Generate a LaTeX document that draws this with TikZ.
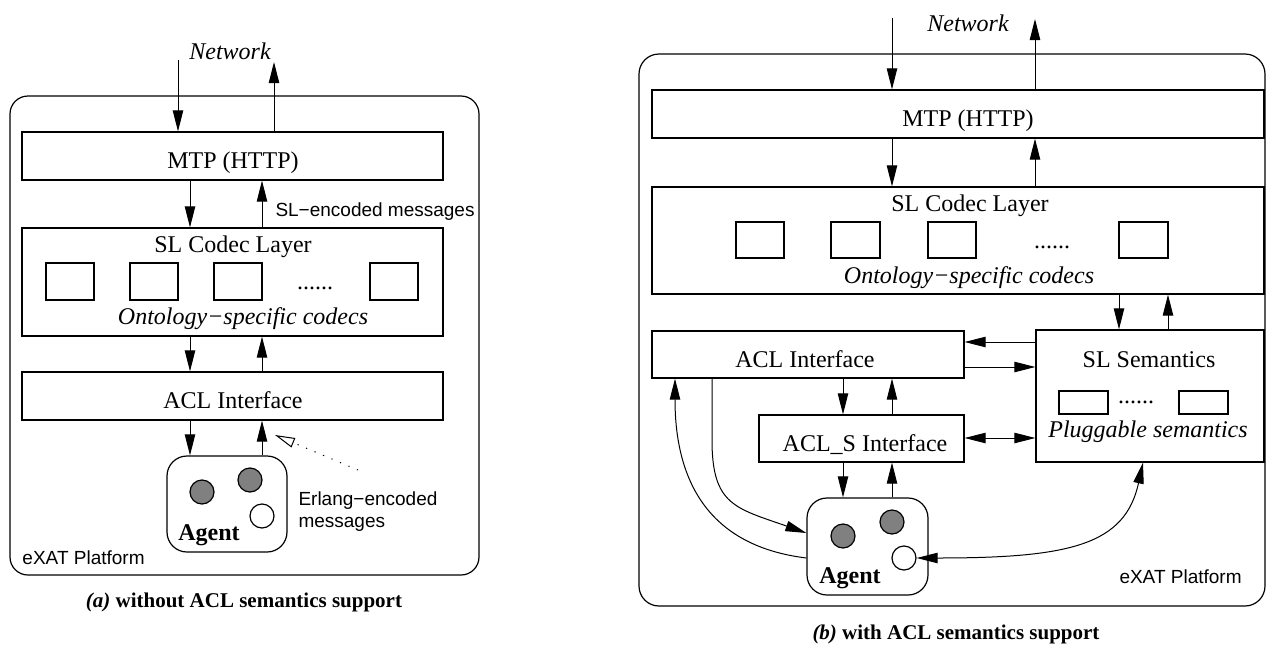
\documentclass[tikz,border=0pt]{standalone}
\usepackage{fontspec}
\setmainfont{Liberation Serif}
\setsansfont{Liberation Sans}
\usetikzlibrary{arrows.meta,fit}
\begin{document}
\begin{tikzpicture}[x=0.5pt,y=-0.5pt, line width=0.5pt,
  box/.style={draw, line width=0.6pt, inner sep=0pt},
  rbox/.style={box, rounded corners=9pt},
  lbl/.style={inner sep=0pt, anchor=base, font=\fontsize{12}{14}\selectfont},
  ilbl/.style={inner sep=0pt, anchor=base, font=\fontsize{12}{14}\selectfont\itshape},
  blbl/.style={inner sep=0pt, anchor=base, font=\fontsize{12}{14}\selectfont\bfseries},
  slbl/.style={inner sep=0pt, anchor=base west, font=\fontsize{9.5}{11}\sffamily\selectfont},
  capt/.style={inner sep=0pt, anchor=base, font=\fontsize{10.5}{12}\bfseries\selectfont},
  arrowhd/.tip={Triangle[length=10.5pt,width=5.2pt]},
  arr/.style={-arrowhd},
  darr/.style={arrowhd-arrowhd},
  dotarr/.style={-{Triangle[open,length=10pt,width=5pt]}, dash pattern=on 0.6pt off 4pt},
  ball/.style={circle, draw, line width=0.6pt, minimum size=12pt, inner sep=0pt, fill=#1},
]
\useasboundingbox (0,0) rectangle (1266,644);

% ================= (a) =================
\node[rbox, fit={(10,96)(479,575)}] (platA) {};
\node[box, fit={(22,132)(443,180)}] (mtpA) {};
\node[box, fit={(22,228)(443,336)}] (slA) {};
\node[box, fit={(22,372)(443,420)}] (aclA) {};
\node[box, rounded corners=10pt, fit={(167,456)(287,552)}] (agentA) {};
\node[box, fit={(46,263)(94,300)}] (cA1) {};
\node[box, fit={(130,263)(178,300)}] (cA2) {};
\node[box, fit={(214,263)(262,300)}] (cA3) {};
\node[box, fit={(370,263)(418,300)}] (cA4) {};
\node[ball=gray] (gA1) at (202,492) {};
\node[ball=gray] (gA2) at (250,480) {};
\node[ball=white] (wA) at (262,516) {};

\node[ilbl] (netA) at (230,59) {Network};
\node[lbl] (mtpAt) at (233,168) {MTP (HTTP)};
\node[lbl] (slAt) at (233,252) {SL Codec Layer};
\node[lbl] (dotsA) at (315,289) {......};
\node[ilbl] (ontA) at (243,324) {Ontology−specific codecs};
\node[lbl] (aclAt) at (233,408) {ACL Interface};
\node[blbl] (agA) at (209,540) {Agent};
\node[slbl] (slencA) at (275,216) {SL−encoded messages};
\node[slbl] (erl1A) at (298,505) {Erlang−encoded};
\node[slbl] (erl2A) at (298,527) {messages};
\node[slbl] (exatA) at (22,564) {eXAT Platform};
\node[capt] (capA) at (244,607) {\textit{(a)} without ACL semantics support};

\coordinate (netInA) at (178,60);
\coordinate (netOutA) at (274,62);
\coordinate (xA1) at (190,0);
\coordinate (xA2) at (262,0);
\draw[arr] (netInA) -- (netInA |- mtpA.north);
\draw[arr] (netOutA |- mtpA.north) -- (netOutA);
\draw[arr] (xA1 |- mtpA.south) -- (xA1 |- slA.north);
\draw[arr] (xA2 |- slA.north) -- (xA2 |- mtpA.south);
\draw[arr] (xA1 |- slA.south) -- (xA1 |- aclA.north);
\draw[arr] (xA2 |- aclA.north) -- (xA2 |- slA.south);
\draw[arr] (xA1 |- aclA.south) -- (xA1 |- agentA.north);
\draw[arr] (xA2 |- agentA.north) -- (xA2 |- aclA.south);
\coordinate (dotS) at (358,470);
\coordinate (dotE) at (275,435);
\draw[dotarr] (dotS) -- (dotE);

% ================= (b) =================
\node[rbox, rounded corners=10pt, fit={(639,54)(1265,606)}] (platB) {};
\node[box, fit={(652,90)(1264,138)}] (mtpB) {};
\node[box, fit={(652,187)(1264,294)}] (slB) {};
\node[box, fit={(1036,330)(1264,462)}] (semB) {};
\node[box, fit={(652,331)(964,378)}] (aclB) {};
\node[box, fit={(759,415)(964,462)}] (aclsB) {};
\node[box, rounded corners=10pt, fit={(807,498)(928,595)}] (agentB) {};
\node[box, fit={(736,222)(784,258)}] (cB1) {};
\node[box, fit={(831,222)(880,258)}] (cB2) {};
\node[box, fit={(928,222)(976,258)}] (cB3) {};
\node[box, fit={(1119,222)(1168,258)}] (cB4) {};
\node[box, fit={(1059,391)(1108,414)}] (pB1) {};
\node[box, fit={(1179,391)(1228,414)}] (pB2) {};
\node[ball=gray] (gB1) at (843,536) {};
\node[ball=gray] (gB2) at (892,522) {};
\node[ball=white] (wB) at (904,558) {};

\node[ilbl] (netB) at (968,31) {Network};
\node[lbl] (mtpBt) at (968,126) {MTP (HTTP)};
\node[lbl] (slBt) at (970,211) {SL Codec Layer};
\node[lbl] (dotsB) at (1052,248) {......};
\node[ilbl] (ontB) at (969,283) {Ontology−specific codecs};
\node[lbl] (semBt) at (1149,367) {SL Semantics};
\node[lbl] (dotsB2) at (1136,403) {......};
\node[ilbl] (plugB) at (1148,437) {Pluggable semantics};
\node[lbl] (aclBt) at (805,367) {ACL Interface};
\node[lbl] (aclsBt) at (865,451) {ACL\_S Interface};
\node[blbl] (agB) at (850,583) {Agent};
\node[slbl] (exatB) at (1119,583) {eXAT Platform};
\node[capt] (capB) at (956,639) {\textit{(b)} with ACL semantics support};

\coordinate (netInB) at (892,18);
\coordinate (netOutB) at (1035,19);
\coordinate (xB1) at (892,0);
\coordinate (xB2) at (1035,0);
\coordinate (xB3) at (1119,0);
\coordinate (xB4) at (1168,0);
\coordinate (xB5) at (843,0);
\coordinate (xB6) at (892,0);
\coordinate (yB1) at (0,342);
\coordinate (yB2) at (0,367);
\coordinate (yB3) at (0,438);
\draw[arr] (netInB) -- (netInB |- mtpB.north);
\draw[arr] (netOutB |- mtpB.north) -- (netOutB);
\draw[arr] (xB1 |- mtpB.south) -- (xB1 |- slB.north);
\draw[arr] (xB2 |- slB.north) -- (xB2 |- mtpB.south);
\draw[arr] (xB3 |- slB.south) -- (xB3 |- semB.north);
\draw[arr] (xB4 |- semB.north) -- (xB4 |- slB.south);
\draw[arr] (semB.west |- yB1) -- (aclB.east |- yB1);
\draw[arr] (aclB.east |- yB2) -- (semB.west |- yB2);
\draw[darr] (aclsB.east |- yB3) -- (semB.west |- yB3);
\draw[arr] (xB5 |- aclB.south) -- (xB5 |- aclsB.north);
\draw[arr] (xB6 |- aclsB.north) -- (xB6 |- aclB.south);
\draw[arr] (xB5 |- aclsB.south) -- (xB5 |- agentB.north);
\draw[arr] (xB6 |- agentB.north) -- (xB6 |- aclsB.south);

\coordinate (xC1) at (675,0);
\coordinate (xC2) at (712,0);
\coordinate (xC3) at (1143,0);
\coordinate (yC1) at (0,558);
\coordinate (yC2) at (0,533);
\draw[arr] (agentB.west |- yC1) .. controls (700,545) and (675,470) .. (xC1 |- aclB.south);
\draw[arr] (xC2 |- aclB.south) -- (712,440) .. controls (712,505) and (735,508) .. (agentB.west |- yC2);
\draw[darr] (wB.east) .. controls (1070,558) and (1125,545) .. (xC3 |- semB.south);
\end{tikzpicture}
\end{document}
